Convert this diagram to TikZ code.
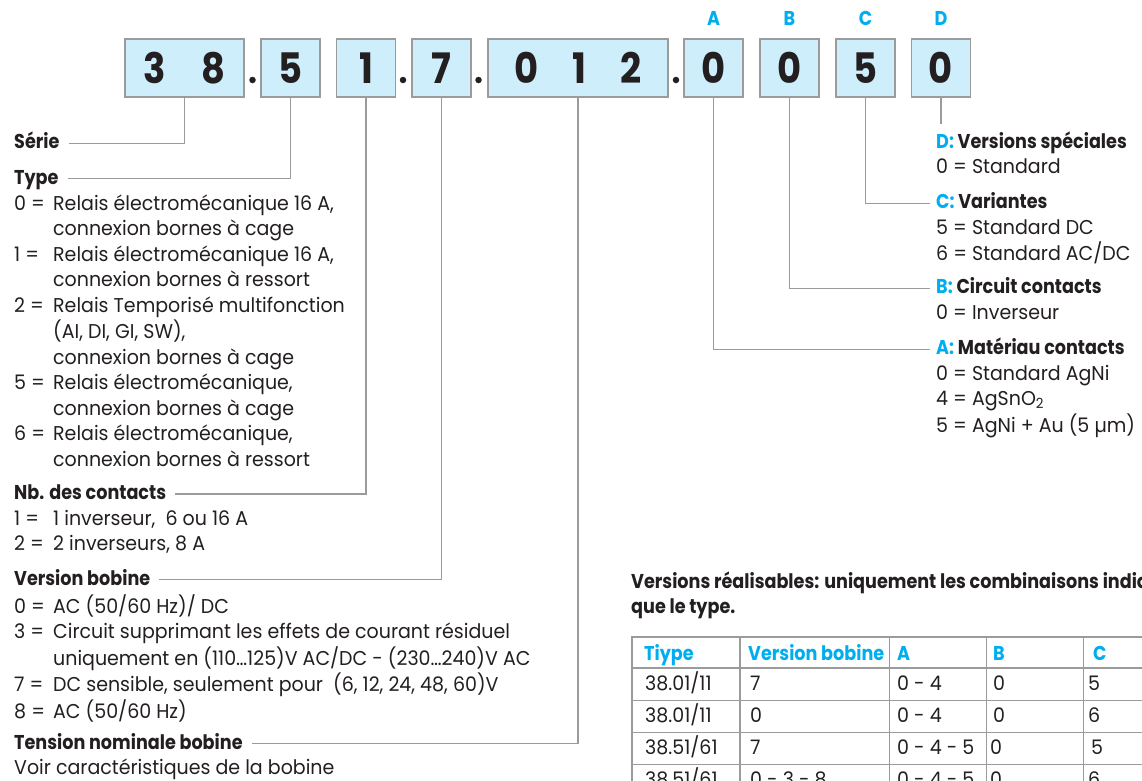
\documentclass[tikz,border=0pt]{standalone}
\usepackage{fontspec}
\setmainfont{Poppins}[UprightFeatures={FakeStretch=0.95}, BoldFeatures={FakeStretch=0.88}]
\definecolor{fcyan}{HTML}{00AEEF}
\definecolor{boxfill}{HTML}{CDEEFA}
\definecolor{leadgray}{HTML}{9B9B9B}
\definecolor{ink}{HTML}{231F20}
\newcommand{\bodyfont}{\fontsize{20}{25.5}\selectfont}
\tikzset{
  digbox/.style={draw=leadgray, line width=1.4pt, fill=boxfill, minimum width=59pt, minimum height=58pt, inner sep=0pt, text=ink, font=\fontsize{42}{42}\selectfont\bfseries},
  dotmark/.style={circle, fill=ink, inner sep=0pt, minimum size=6.5pt},
  letter/.style={inner sep=0pt, text=fcyan, font=\bodyfont\bfseries},
  head/.style={anchor=base west, inner sep=0pt, text height=14pt, text depth=3pt, text=ink, font=\bodyfont\bfseries},
  body/.style={anchor=north west, inner sep=0pt, text=ink, font=\bodyfont},
  lead/.style={draw=leadgray, line width=1.2pt},
  cell/.style={anchor=base west, inner sep=0pt, text=ink, font=\bodyfont},
  thead/.style={cell, text=fcyan, font=\bodyfont\bfseries},
  tabline/.style={draw=leadgray, line width=1.2pt},
  tabframe/.style={draw=leadgray, line width=2.6pt}
}
\begin{document}
\begin{tikzpicture}[x=1pt, y=-1pt]
\useasboundingbox (0,0) rectangle (1142,780);
\clip (0,0) rectangle (1142,780);
% code
\node[digbox, minimum width=119pt] (b38) at (184.5,68){3\hspace{36pt}8};
\node[dotmark] (dot1) at (252.5,80){};
\node[digbox] (b5) at (290.5,68){5};
\node[digbox] (b1) at (366,68){1};
\node[dotmark] (dot2) at (403,80){};
\node[digbox] (b7) at (441.5,68){7};
\node[dotmark] (dot3) at (478.5,80){};
\node[digbox, minimum width=180pt] (b012) at (578,68){0\hspace{34pt}1\hspace{34pt}2};
\node[dotmark] (dot4) at (676,80){};
\node[digbox] (bA) at (713.5,68){0};
\node[digbox] (bB) at (789.5,68){0};
\node[digbox] (bC) at (865.5,68){5};
\node[digbox] (bD) at (941,68){0};
\node[letter] (lA) at (713.5,18){A};
\node[letter] (lB) at (789.5,18){B};
\node[letter] (lC) at (865.5,18){C};
\node[letter] (lD) at (941,18){D};
% left side
\node[head] (serie) at (14,148.7){Série};
\node[head] (type) at (14,184){Type};
\node[body] (typelist) at (14,192.2){\begin{tabular}{@{}p{39pt}@{}l@{}}
0 = & Relais électromécanique 16 A,\\
 & connexion bornes à cage\\
1 = & Relais électromécanique 16 A,\\
 & connexion bornes à ressort\\
2 = & Relais Temporisé multifonction\\
 & (AI, DI, GI, SW),\\
 & connexion bornes à cage\\
5 = & Relais électromécanique,\\
 & connexion bornes à cage\\
6 = & Relais électromécanique,\\
 & connexion bornes à ressort
\end{tabular}};
\node[head] (nbcont) at (14,499.5){Nb. des contacts};
\node[body] (nblist) at (14,507.2){\begin{tabular}{@{}p{39pt}@{}l@{}}
1 = & 1 inverseur,\ \ 6 ou 16 A\\
2 = & 2 inverseurs, 8 A
\end{tabular}};
\node[head] (verbob) at (14,585){Version bobine};
\node[body] (verlist) at (14,594.2){\begin{tabular}{@{}p{39pt}@{}l@{}}
0 = & AC (50/60 Hz)/ DC\\
3 = & Circuit supprimant les effets de courant résiduel\\
 & uniquement en (110…125)V AC/DC - (230…240)V AC\\
7 = & DC sensible, seulement pour\ \ (6, 12, 24, 48, 60)V\\
8 = & AC (50/60 Hz)
\end{tabular}};
\node[head] (tension) at (14,749){Tension nominale bobine};
\node[body] (tenslist) at (14,756.2){\begin{tabular}{@{}l@{}}
Voir caractéristiques de la bobine
\end{tabular}};
% right side
\node[head] (verD) at (936,148.7){\textcolor{fcyan}{D:} Versions spéciales};
\node[body] (listD) at (936,155.9){\begin{tabular}{@{}l@{}}
0 = Standard
\end{tabular}};
\node[head] (verC) at (936,208.7){\textcolor{fcyan}{C:} Variantes};
\node[body] (listC) at (936,216.2){\begin{tabular}{@{}l@{}}
5 = Standard DC\\
6 = Standard AC/DC
\end{tabular}};
\node[head] (verB) at (936,293.7){\textcolor{fcyan}{B:} Circuit contacts};
\node[body] (listB) at (936,301.9){\begin{tabular}{@{}l@{}}
0 = Inverseur
\end{tabular}};
\node[head] (verA) at (936,354.7){\textcolor{fcyan}{A:} Matériau contacts};
\node[body] (listA) at (936,362.2){\begin{tabular}{@{}l@{}}
0 = Standard AgNi\\
4 = AgSnO\textsubscript{2}\\
5 = AgNi + Au (5 µm)
\end{tabular}};
% leaders
\draw[lead] (b38.south) |- ([xshift=9pt]serie.east);
\draw[lead] (b5.south) |- ([xshift=9pt]type.east);
\draw[lead] (b1.south) |- ([xshift=9pt]nbcont.east);
\draw[lead] (b7.south) |- ([xshift=9pt]verbob.east);
\draw[lead] (b012.south) |- ([xshift=9pt]tension.east);
\draw[lead] (bA.south) |- ([xshift=-6pt]verA.west);
\draw[lead] (bB.south) |- ([xshift=-6pt]verB.west);
\draw[lead] (bC.south) |- ([xshift=-6pt]verC.west);
\coordinate (dend) at (941,124);
\draw[lead] (bD.south) -- (dend);
% table
\node[head] (tabtitle) at (631,588){Versions réalisables: uniquement les combinaisons indiq};
\node[head] (tabtitle2) at (631,613){que le type.};
\draw[tabline] (632,668) -- (1160,668);
\draw[tabline] (632,700.7) -- (1160,700.7);
\draw[tabline] (632,732.7) -- (1160,732.7);
\draw[tabline] (632,764.3) -- (1160,764.3);
\draw[tabline] (740,637) -- (740,800);
\draw[tabline] (889.5,637) -- (889.5,800);
\draw[tabline] (986.7,637) -- (986.7,800);
\draw[tabline] (1083.3,637) -- (1083.3,800);
\draw[tabframe] (1160,637) -| (632,800);
\node[thead] (h1) at (644,660){Tiype};
\node[thead] (h2) at (748,660){Version bobine};
\node[thead] (h3) at (897,660){A};
\node[thead] (h4) at (993,660){B};
\node[thead] (h5) at (1093,660){C};
\node[cell] (r1c1) at (645,690){38.01/11};
\node[cell] (r1c2) at (750,690){7};
\node[cell] (r1c3) at (897,690){0 - 4};
\node[cell] (r1c4) at (993,690){0};
\node[cell] (r1c5) at (1088,690){5};
\node[cell] (r2c1) at (645,722){38.01/11};
\node[cell] (r2c2) at (750,722){0};
\node[cell] (r2c3) at (897,722){0 - 4};
\node[cell] (r2c4) at (993,722){0};
\node[cell] (r2c5) at (1088,722){6};
\node[cell] (r3c1) at (645,754){38.51/61};
\node[cell] (r3c2) at (750,754){7};
\node[cell] (r3c3) at (897,754){0 - 4 - 5};
\node[cell] (r3c4) at (990,754){0};
\node[cell] (r3c5) at (1091,754){5};
\node[cell] (r4c1) at (645,786){38.51/61};
\node[cell] (r4c2) at (750,786){0 - 3 - 8};
\node[cell] (r4c3) at (897,786){0 - 4 - 5};
\node[cell] (r4c4) at (990,786){0};
\node[cell] (r4c5) at (1088,786){6};
\end{tikzpicture}
\end{document}
